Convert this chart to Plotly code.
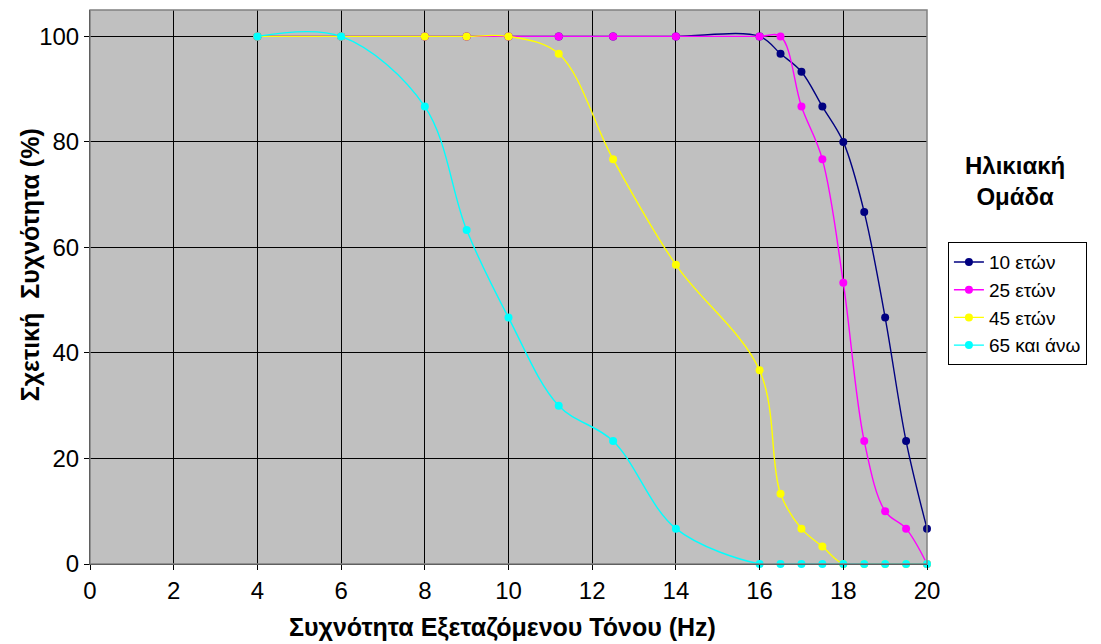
import plotly.graph_objects as go

freq = [4, 6, 8, 9, 10, 11.2, 12.5, 14, 16, 16.5, 17, 17.5, 18, 18.5, 19, 19.5, 20]
age10 = [100, 100, 100, 100, 100, 100, 100, 100, 100, 96.7, 93.3, 86.7, 80, 66.7, 46.7, 23.3, 6.7]
age25 = [100, 100, 100, 100, 100, 100, 100, 100, 100, 100, 86.7, 76.7, 53.3, 23.3, 10, 6.7, 0]
age45 = [100, 100, 100, 100, 100, 96.7, 76.7, 56.7, 36.7, 13.3, 6.7, 3.3, 0, 0, 0, 0, 0]
age65 = [100, 100, 86.7, 63.3, 46.7, 30, 23.3, 6.7, 0, 0, 0, 0, 0, 0, 0, 0, 0]

series_names = ["10 ετών", "25 ετών", "45 ετών", "65 και άνω"]
series_values = [age10, age25, age45, age65]
series_colors = ["#000080", "#FF00FF", "#FFFF00", "#00FFFF"]

x_ticks = list(range(0, 21, 2))
y_ticks = list(range(0, 101, 20))

FONT = "Liberation Sans, Arial, sans-serif"

fig = go.Figure()
for name, vals, col in zip(series_names, series_values, series_colors):
    fig.add_trace(go.Scatter(
        x=freq, y=vals, name=name, mode="lines+markers",
        line=dict(color=col, width=1.4, shape="spline", smoothing=1.0),
        marker=dict(color=col, size=8, symbol="circle"),
        cliponaxis=False,
    ))

fig.update_layout(
    width=1101, height=644,
    margin=dict(l=90, r=174, t=10, b=80),
    paper_bgcolor="white",
    plot_bgcolor="#C0C0C0",
    font=dict(family=FONT, color="black", size=22),
    showlegend=True,
    legend=dict(
        x=1.025, y=0.581, xanchor="left", yanchor="top",
        bordercolor="black", borderwidth=1, bgcolor="white",
        font=dict(family=FONT, size=19, color="black"),
        tracegroupgap=0,
    ),
    xaxis=dict(
        range=[0, 20], tickvals=x_ticks, ticktext=[str(v) for v in x_ticks],
        showgrid=True, gridcolor="black", gridwidth=1,
        showline=True, linecolor="black", linewidth=1,
        ticks="outside", ticklen=5, tickcolor="black",
        zeroline=False, tickfont=dict(size=24),
    ),
    yaxis=dict(
        range=[0, 105], tickvals=y_ticks, ticktext=[str(v) for v in y_ticks],
        showgrid=True, gridcolor="black", gridwidth=1,
        showline=True, linecolor="black", linewidth=1,
        ticks="outside", ticklen=5, tickcolor="black",
        zeroline=False, tickfont=dict(size=24),
    ),
    shapes=[dict(type="rect", xref="paper", yref="paper", x0=0, y0=0, x1=1, y1=1,
                 line=dict(color="#808080", width=1.5), layer="above")],
    annotations=[
        dict(text="<b>Συχνότητα Εξεταζόμενου Τόνου (Hz)</b>", xref="paper", yref="paper",
             x=0.4934, y=-0.1145, xanchor="center", yanchor="middle", showarrow=False,
             font=dict(family=FONT, size=25)),
        dict(text="<b>Σχετική  Συχνότητα (%)</b>", xref="paper", yref="paper",
             x=-0.0717, y=0.541, xanchor="center", yanchor="middle", showarrow=False,
             textangle=-90, font=dict(family=FONT, size=25)),
        dict(text="<b>Ηλικιακή<br>Ομάδα</b>", xref="paper", yref="paper",
             x=1.105, y=0.691, xanchor="center", yanchor="middle", showarrow=False,
             font=dict(family=FONT, size=24)),
    ],
)

fig.write_html("out.html")
